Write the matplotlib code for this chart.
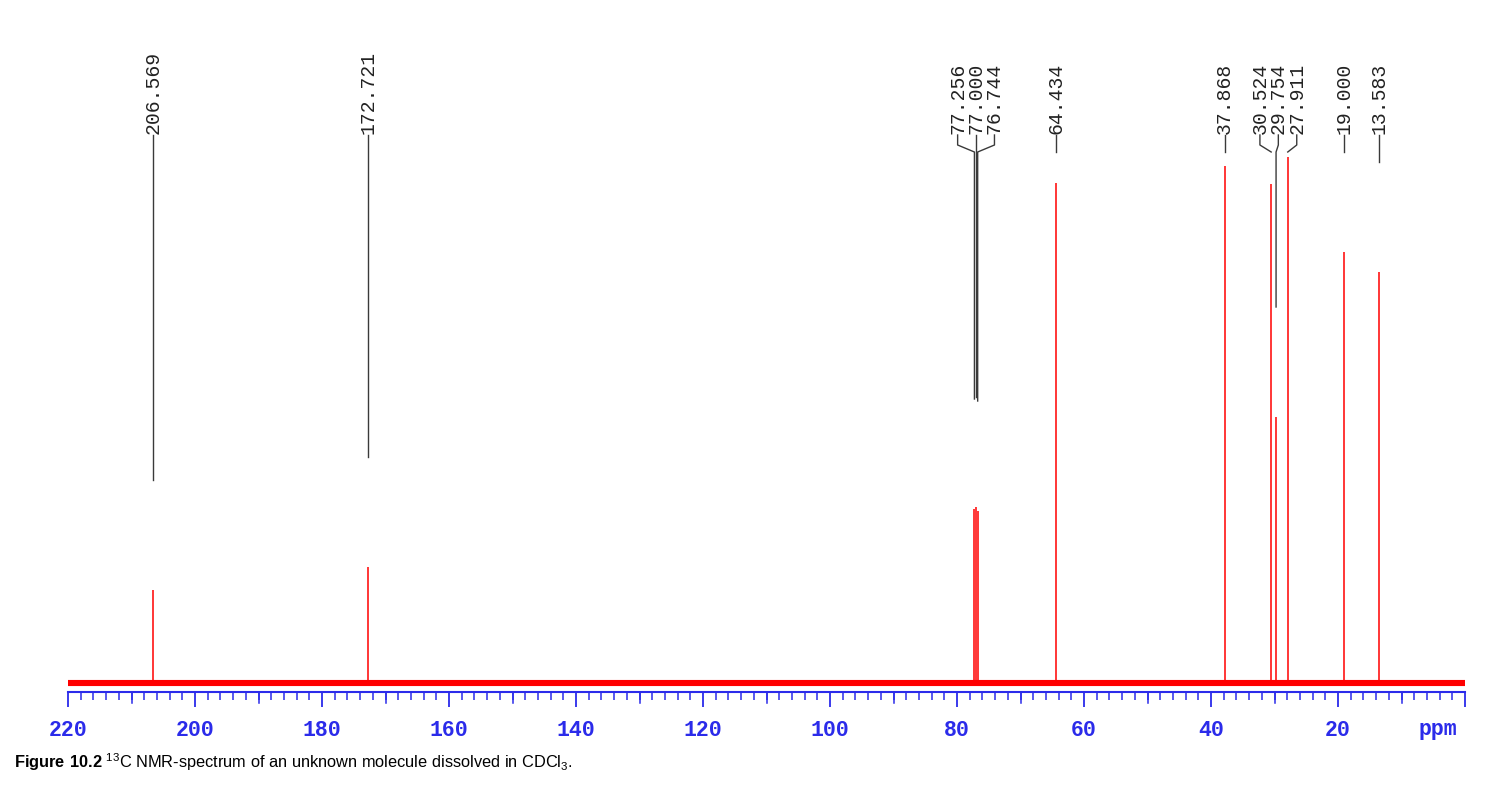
import numpy as np
import matplotlib
matplotlib.use("Agg")
import matplotlib.pyplot as plt

plt.rcParams["mathtext.fontset"] = "custom"
plt.rcParams["mathtext.rm"] = "Liberation Sans"
plt.rcParams["mathtext.bf"] = "Liberation Sans:bold"

# --- data ---
PEAK_PPM = [206.569, 172.721, 77.256, 77.000, 76.744, 64.434,
            37.868, 30.524, 29.754, 27.911, 19.000, 13.583]
PEAK_HEIGHT = [93, 116, 174, 176, 172, 500,
               517, 499, 266, 526, 431, 411]
PEAK_LABELS = ["206.569", "172.721", "77.256", "77.000", "76.744", "64.434",
               "37.868", "30.524", "29.754", "27.911", "19.000", "13.583"]
MAJOR_TICKS = [220, 200, 180, 160, 140, 120, 100, 80, 60, 40, 20]
CAPTION = (r"$\bf{Figure\ 10.2}$ $^{13}$C NMR-spectrum of an unknown "
           r"molecule dissolved in CDCl$_3$.")

# --- style ---
RED = "#FF0000"
BLUE = "#2B2BEA"
INK = "#222222"
LEADER = "#3a3a3a"
MIN_SEP = 2.9          # ppm between neighbouring labels
LABEL_Y = 548          # bottom of the rotated labels
KNEE1, KNEE2 = 538, 531
LEADER_GAP = 110
AX_H = 692.0           # axes height in px


def spread_labels(ppm, sep):
    # group peaks closer than sep and fan the labels out around the group mean
    pos = list(ppm)
    groups, cur = [], [0]
    for i in range(1, len(ppm)):
        if ppm[i - 1] - ppm[i] < sep:
            cur.append(i)
        else:
            groups.append(cur)
            cur = [i]
    groups.append(cur)
    for g in groups:
        m = np.mean([ppm[i] for i in g])
        n = len(g)
        for k, i in enumerate(g):
            pos[i] = m + (n - 1) / 2 * sep - k * sep
    return pos


fig = plt.figure(figsize=(14.85, 8.09), dpi=100)
ax = fig.add_axes([68 / 1485, (809 - 692) / 809, (1465 - 68) / 1485, AX_H / 809])
ax.set_xlim(220, 0)
ax.set_ylim(-9, 683)

# baseline (noise band) and peaks
ax.plot([220, 0], [0, 0], color=RED, lw=4.4, solid_capstyle="butt", zorder=2)
ax.vlines(PEAK_PPM, 0, PEAK_HEIGHT, color=RED, lw=1.1, zorder=3)

# peak labels with leader lines
label_x = spread_labels(PEAK_PPM, MIN_SEP)
for p, h, lx, txt in zip(PEAK_PPM, PEAK_HEIGHT, label_x, PEAK_LABELS):
    end = min(h + LEADER_GAP, KNEE2)
    ax.plot([lx, lx, p, p], [LABEL_Y, KNEE1, KNEE2, end],
            color=LEADER, lw=1.0, zorder=4)
    ax.text(lx, LABEL_Y + 1, txt, rotation=90, ha="center", va="bottom",
            family="Liberation Mono", fontsize=14.2, color=INK)

# axis
for s in ["left", "right", "top"]:
    ax.spines[s].set_visible(False)
ax.spines["bottom"].set_color(BLUE)
ax.spines["bottom"].set_linewidth(1.5)
ax.set_yticks([])
ax.set_xticks(MAJOR_TICKS + [0])
ax.set_xticklabels([str(t) for t in MAJOR_TICKS] + [""])
ax.set_xticks(np.arange(0, 221, 2), minor=True)
ax.tick_params(axis="x", which="major", direction="out", length=11, width=1.3,
               color=BLUE, labelcolor=BLUE, pad=9, labelsize=15.5)
ax.tick_params(axis="x", which="minor", direction="out", length=5.8, width=1.1,
               color=BLUE)
for lab in ax.get_xticklabels():
    lab.set_family("Liberation Mono")
    lab.set_weight("bold")

# medium ticks every 10 ppm
trans = ax.get_xaxis_transform()
for t in range(10, 220, 20):
    ax.plot([t, t], [0, -11 / AX_H], color=BLUE, lw=1.1,
            transform=trans, clip_on=False)

fig.text(1438 / 1485, 1 - 729 / 809, "ppm", ha="center", va="center",
         family="Liberation Mono", weight="bold", fontsize=15.5, color=BLUE)

# caption
fig.text(14 / 1485, 1 - 768 / 809, CAPTION, ha="left", va="baseline",
         family="Liberation Sans", fontsize=11.8, color="black")

fig.savefig("out.png", dpi=100)
